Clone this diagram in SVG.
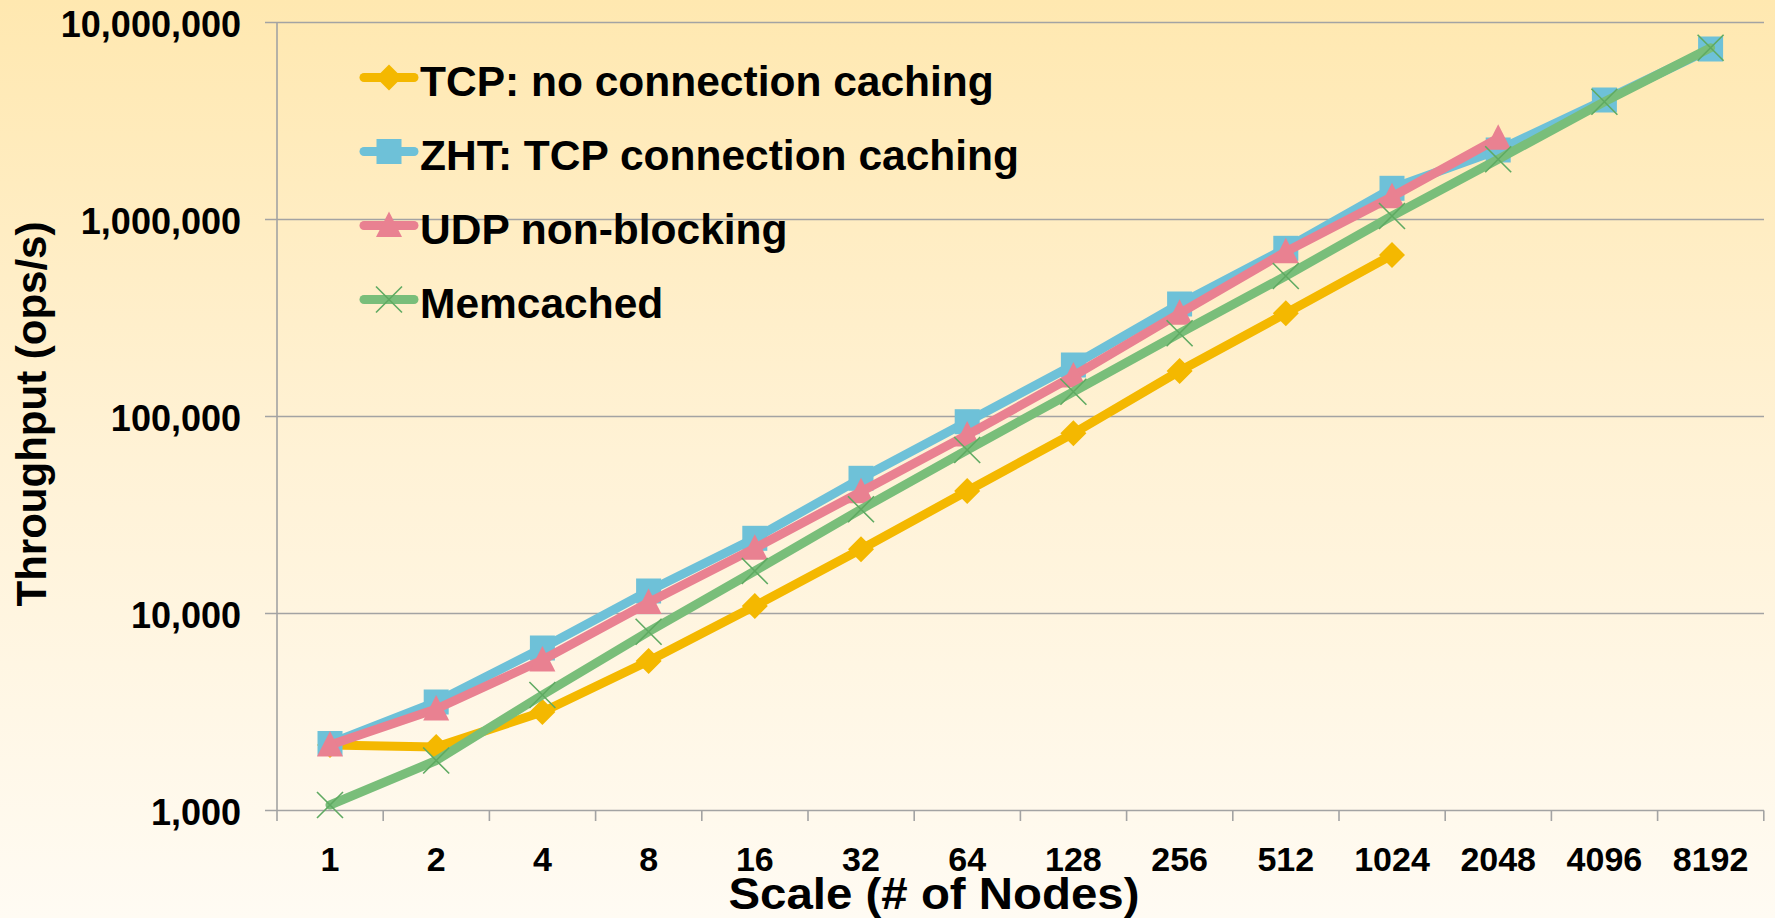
<svg xmlns="http://www.w3.org/2000/svg" xmlns:xlink="http://www.w3.org/1999/xlink" width="1775" height="918" viewBox="0 0 1775 918">
  <defs>
    <linearGradient id="bg" x1="0" y1="0" x2="0" y2="1">
      <stop offset="0" stop-color="#FFE8B0"/>
      <stop offset="0.5" stop-color="#FFF2D6"/>
      <stop offset="1" stop-color="#FFFBF3"/>
    </linearGradient>
    <path id="m-diamond" d="M0,-13 L13,0 L0,13 L-13,0 Z" fill="#F4B800"/>
    <rect id="m-square" x="-12.5" y="-12.5" width="25" height="25" fill="#6EC1D8"/>
    <path id="m-triangle" d="M0,-14 L13,11.5 L-13,11.5 Z" fill="#E98191"/>
    <path id="m-x" d="M-13,-13 L13,13 M-13,13 L13,-13" stroke="#5FAA62" stroke-width="1.6" fill="none"/>
    <style>
      .grid { stroke: #A3A3A3; stroke-width: 1.6; fill: none; }
      .lbl { font-family: "Liberation Sans", Arial, sans-serif; font-weight: bold; fill: #000; }
      .ytick { font-size: 36px; text-anchor: end; }
      .xtick { font-size: 34px; text-anchor: middle; }
      .leg { font-size: 42.5px; }
      .title { font-size: 44px; text-anchor: middle; }
      .series { fill: none; stroke-width: 9; stroke-linejoin: round; stroke-linecap: round; }
      .tcp { stroke: #F4B800; }
      .zht { stroke: #6EC1D8; }
      .udp { stroke: #E98191; }
      .mem { stroke: #79BE7A; }
    </style>
  </defs>

  <rect x="0" y="0" width="1775" height="918" fill="url(#bg)"/>

  <g id="axes">
    <path class="grid" d="M265,22.5 H1764 M265,219.5 H1764 M265,416.5 H1764 M265,613.5 H1764 M265,810.5 H1764"/>
    <path class="grid" d="M277,22.5 V821"/>
    <path class="grid" d="M383.2,810.5 V821 M489.4,810.5 V821 M595.6,810.5 V821 M701.8,810.5 V821 M808,810.5 V821 M914.2,810.5 V821 M1020.4,810.5 V821 M1126.6,810.5 V821 M1232.8,810.5 V821 M1339,810.5 V821 M1445.2,810.5 V821 M1551.4,810.5 V821 M1657.6,810.5 V821 M1763.8,810.5 V821"/>
  </g>

  <g id="y-labels" class="lbl ytick">
    <text x="241" y="37">10,000,000</text>
    <text x="241" y="234">1,000,000</text>
    <text x="241" y="431">100,000</text>
    <text x="241" y="628">10,000</text>
    <text x="241" y="825">1,000</text>
  </g>

  <g id="x-labels" class="lbl xtick">
    <text x="330" y="871">1</text>
    <text x="436.2" y="871">2</text>
    <text x="542.4" y="871">4</text>
    <text x="648.6" y="871">8</text>
    <text x="754.8" y="871">16</text>
    <text x="861" y="871">32</text>
    <text x="967.2" y="871">64</text>
    <text x="1073.4" y="871">128</text>
    <text x="1179.6" y="871">256</text>
    <text x="1285.8" y="871">512</text>
    <text x="1392" y="871">1024</text>
    <text x="1498.2" y="871">2048</text>
    <text x="1604.4" y="871">4096</text>
    <text x="1710.6" y="871">8192</text>
  </g>

  <g id="axis-titles" class="lbl title">
    <text x="934" y="909" textLength="411" lengthAdjust="spacingAndGlyphs">Scale (# of Nodes)</text>
    <text x="0" y="0" font-size="42" transform="translate(46,414) rotate(-90)">Throughput (ops/s)</text>
  </g>

  <g id="connectors">
    <g id="series-tcp">
      <polyline class="series tcp" points="330,745 436.2,747 542.4,712 648.6,661 754.8,606 861,549.3 967.2,491 1073.4,433.3 1179.6,371 1285.8,313.3 1392,255"/>
      <use xlink:href="#m-diamond" x="330" y="745"/>
      <use xlink:href="#m-diamond" x="436.2" y="747"/>
      <use xlink:href="#m-diamond" x="542.4" y="712"/>
      <use xlink:href="#m-diamond" x="648.6" y="661"/>
      <use xlink:href="#m-diamond" x="754.8" y="606"/>
      <use xlink:href="#m-diamond" x="861" y="549.3"/>
      <use xlink:href="#m-diamond" x="967.2" y="491"/>
      <use xlink:href="#m-diamond" x="1073.4" y="433.3"/>
      <use xlink:href="#m-diamond" x="1179.6" y="371"/>
      <use xlink:href="#m-diamond" x="1285.8" y="313.3"/>
      <use xlink:href="#m-diamond" x="1392" y="255"/>
    </g>
    <g id="series-zht">
      <polyline class="series zht" points="330,743.5 436.2,702 542.4,648 648.6,591 754.8,538.3 861,478.3 967.2,421.7 1073.4,365 1179.6,304 1285.8,248.3 1392,188.3 1498.2,150 1604.4,100 1710.6,49"/>
      <use xlink:href="#m-square" x="330" y="743.5"/>
      <use xlink:href="#m-square" x="436.2" y="702"/>
      <use xlink:href="#m-square" x="542.4" y="648"/>
      <use xlink:href="#m-square" x="648.6" y="591"/>
      <use xlink:href="#m-square" x="754.8" y="538.3"/>
      <use xlink:href="#m-square" x="861" y="478.3"/>
      <use xlink:href="#m-square" x="967.2" y="421.7"/>
      <use xlink:href="#m-square" x="1073.4" y="365"/>
      <use xlink:href="#m-square" x="1179.6" y="304"/>
      <use xlink:href="#m-square" x="1285.8" y="248.3"/>
      <use xlink:href="#m-square" x="1392" y="188.3"/>
      <use xlink:href="#m-square" x="1498.2" y="150"/>
      <use xlink:href="#m-square" x="1604.4" y="100"/>
      <use xlink:href="#m-square" x="1710.6" y="49"/>
    </g>
    <g id="series-udp">
      <polyline class="series udp" points="330,745 436.2,709 542.4,660 648.6,602.5 754.8,548.3 861,491.7 967.2,435 1073.4,376 1179.6,313.3 1285.8,251.7 1392,196.7 1498.2,138.3"/>
      <use xlink:href="#m-triangle" x="330" y="745"/>
      <use xlink:href="#m-triangle" x="436.2" y="709"/>
      <use xlink:href="#m-triangle" x="542.4" y="660"/>
      <use xlink:href="#m-triangle" x="648.6" y="602.5"/>
      <use xlink:href="#m-triangle" x="754.8" y="548.3"/>
      <use xlink:href="#m-triangle" x="861" y="491.7"/>
      <use xlink:href="#m-triangle" x="967.2" y="435"/>
      <use xlink:href="#m-triangle" x="1073.4" y="376"/>
      <use xlink:href="#m-triangle" x="1179.6" y="313.3"/>
      <use xlink:href="#m-triangle" x="1285.8" y="251.7"/>
      <use xlink:href="#m-triangle" x="1392" y="196.7"/>
      <use xlink:href="#m-triangle" x="1498.2" y="138.3"/>
    </g>
    <g id="series-mem">
      <polyline class="series mem" points="330,805 436.2,760.5 542.4,695 648.6,631.7 754.8,571 861,509.3 967.2,450 1073.4,391.7 1179.6,333.3 1285.8,276 1392,216 1498.2,159.3 1604.4,101.7 1710.6,47.7"/>
      <use xlink:href="#m-x" x="330" y="805"/>
      <use xlink:href="#m-x" x="436.2" y="760.5"/>
      <use xlink:href="#m-x" x="542.4" y="695"/>
      <use xlink:href="#m-x" x="648.6" y="631.7"/>
      <use xlink:href="#m-x" x="754.8" y="571"/>
      <use xlink:href="#m-x" x="861" y="509.3"/>
      <use xlink:href="#m-x" x="967.2" y="450"/>
      <use xlink:href="#m-x" x="1073.4" y="391.7"/>
      <use xlink:href="#m-x" x="1179.6" y="333.3"/>
      <use xlink:href="#m-x" x="1285.8" y="276"/>
      <use xlink:href="#m-x" x="1392" y="216"/>
      <use xlink:href="#m-x" x="1498.2" y="159.3"/>
      <use xlink:href="#m-x" x="1604.4" y="101.7"/>
      <use xlink:href="#m-x" x="1710.6" y="47.7"/>
    </g>
  </g>

  <g id="legend">
    <g id="legend-tcp">
      <line class="series tcp" x1="364" y1="77.5" x2="414" y2="77.5"/>
      <use xlink:href="#m-diamond" x="389" y="77.5"/>
      <text class="lbl leg" x="420" y="96">TCP: no connection caching</text>
    </g>
    <g id="legend-zht">
      <line class="series zht" x1="364" y1="151.5" x2="414" y2="151.5"/>
      <use xlink:href="#m-square" x="389" y="151.5"/>
      <text class="lbl leg" x="420" y="170">ZHT: TCP connection caching</text>
    </g>
    <g id="legend-udp">
      <line class="series udp" x1="364" y1="225.5" x2="414" y2="225.5"/>
      <use xlink:href="#m-triangle" x="389" y="225.5"/>
      <text class="lbl leg" x="420" y="244">UDP non-blocking</text>
    </g>
    <g id="legend-mem">
      <line class="series mem" x1="364" y1="299.5" x2="414" y2="299.5"/>
      <use xlink:href="#m-x" x="389" y="299.5"/>
      <text class="lbl leg" x="420" y="318">Memcached</text>
    </g>
  </g>
</svg>
